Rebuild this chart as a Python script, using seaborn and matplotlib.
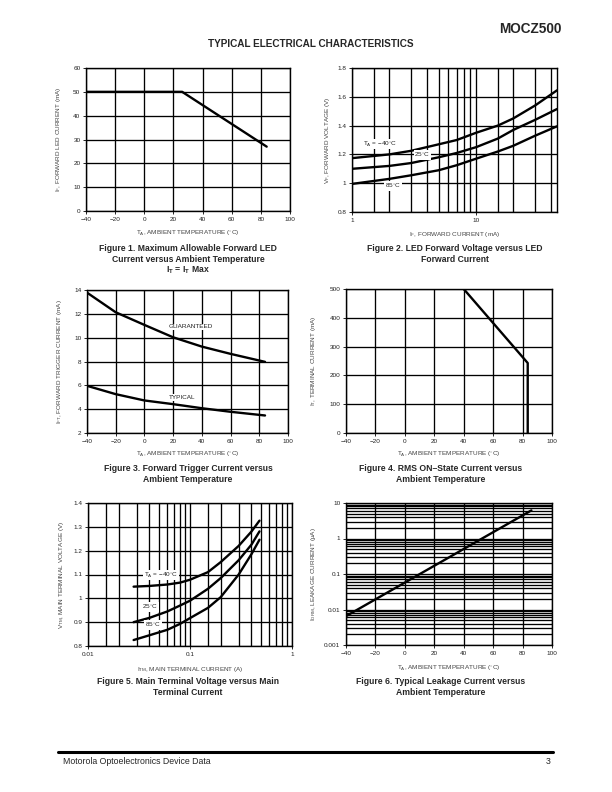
import numpy as np
import pandas as pd
import matplotlib
matplotlib.use("Agg")
import matplotlib.pyplot as plt
import seaborn as sns

# ---------------- data ----------------
fig1_temp = [-40, 26, 84]
fig1_current = [50, 50, 27]

fig2_if = [1, 2, 3, 5, 7, 10, 15, 20, 30, 45]
fig2_vf_m40 = [1.174, 1.20, 1.225, 1.27, 1.30, 1.35, 1.40, 1.45, 1.54, 1.645]
fig2_vf_25 = [1.10, 1.12, 1.14, 1.18, 1.21, 1.25, 1.31, 1.37, 1.44, 1.515]
fig2_vf_85 = [0.995, 1.03, 1.055, 1.09, 1.125, 1.17, 1.22, 1.26, 1.33, 1.395]

fig3_temp = [-40, -20, 0, 20, 40, 60, 84]
fig3_guaranteed = [13.78, 12.13, 11.07, 10.03, 9.25, 8.64, 7.97]
fig3_typical = [5.96, 5.26, 4.73, 4.42, 4.08, 3.78, 3.47]

fig4_temp = [40, 83.5, 83.5]
fig4_current = [500, 243, 0]

fig5_itm = [0.028, 0.04, 0.06, 0.08, 0.1, 0.15, 0.2, 0.3, 0.4, 0.48]
fig5_v_m40 = [1.049, 1.052, 1.058, 1.066, 1.078, 1.11, 1.152, 1.22, 1.28, 1.326]
fig5_v_25 = [0.900, 0.918, 0.945, 0.97, 0.99, 1.04, 1.085, 1.16, 1.225, 1.281]
fig5_v_85 = [0.825, 0.845, 0.868, 0.893, 0.917, 0.96, 1.005, 1.10, 1.185, 1.246]

fig6_temp = [-40, 86]
fig6_leak = [0.0065, 6.2]

temp_ticks = [-40, -20, 0, 20, 40, 60, 80, 100]

# ---------------- style ----------------
sns.set_theme(style="white")
plt.rcParams['font.family'] = ['Liberation Sans', 'DejaVu Sans']
plt.rcParams['axes.unicode_minus'] = True
plt.rcParams['mathtext.fontset'] = 'custom'
plt.rcParams['mathtext.rm'] = 'Liberation Sans'
plt.rcParams['mathtext.it'] = 'Liberation Sans'
plt.rcParams['mathtext.bf'] = 'Liberation Sans:bold'

W, H = 612, 792
fig = plt.figure(figsize=(6.12, 7.92), dpi=100)

LBL = '#444444'
TCK = '#222222'
LW_GRID = 0.95
LW_CURVE = 1.7


def make_ax(l, r, t, b):
    return fig.add_axes([l / W, 1 - b / H, (r - l) / W, (b - t) / H])


def style(ax, xlab, ylab, ylx, xly):
    ax.grid(which='major', color='black', lw=LW_GRID)
    ax.grid(which='minor', color='black', lw=LW_GRID)
    for s in ax.spines.values():
        s.set_color('black')
        s.set_linewidth(1.0)
    ax.tick_params(which='major', length=2, width=0.6, labelsize=4.6,
                   colors='black', labelcolor=TCK, pad=2,
                   bottom=True, left=True)
    ax.tick_params(which='minor', length=0)
    ax.set_xlabel(xlab, fontsize=4.6, color=LBL)
    ax.set_ylabel(ylab, fontsize=4.6, color=LBL)
    ax.yaxis.set_label_coords(ylx, 0.5)
    ax.xaxis.set_label_coords(0.5, xly)
    ax.set_axisbelow(True)


def curve(ax, x, y, **kw):
    sns.lineplot(x=x, y=y, ax=ax, color='black', lw=LW_CURVE,
                 sort=False, estimator=None, legend=False, **kw)


ta_label = r'T$_{\mathregular{A}}$, AMBIENT TEMPERATURE ($^{\circ}$C)'
tb = dict(facecolor='white', edgecolor='none', pad=0.6)

# ---- Figure 1 ----
ax1 = make_ax(86, 290, 68, 211)
curve(ax1, fig1_temp, fig1_current)
ax1.set_xlim(-40, 100)
ax1.set_ylim(0, 60)
ax1.set_xticks(temp_ticks)
ax1.set_yticks([0, 10, 20, 30, 40, 50, 60])
style(ax1, ta_label, r'I$_{\mathregular{F}}$, FORWARD LED CURRENT (mA)', -0.113, -0.126)

# ---- Figure 2 ----
ax2 = make_ax(352, 557, 68, 212)
curve(ax2, fig2_if, fig2_vf_m40)
curve(ax2, fig2_if, fig2_vf_25)
curve(ax2, fig2_if, fig2_vf_85)
ax2.set_xscale('log')
ax2.set_xlim(1, 45)
ax2.set_ylim(0.8, 1.8)
ax2.set_xticks([1, 10])
ax2.set_xticklabels(['1', '10'])
ax2.set_xticks([1.5, 2, 3, 4, 5, 6, 7, 8, 9, 15, 20, 30, 40], minor=True)
ax2.xaxis.set_minor_formatter(matplotlib.ticker.NullFormatter())
ax2.set_yticks([0.8, 1.0, 1.2, 1.4, 1.6, 1.8])
ax2.set_yticklabels(['0.8', '1', '1.2', '1.4', '1.6', '1.8'])
style(ax2, r'I$_{\mathregular{F}}$, FORWARD CURRENT (mA)',
      r'V$_{\mathregular{F}}$, FORWARD VOLTAGE (V)', -0.098, -0.125)
ax2.text(1.68, 1.272, r'T$_{\mathregular{A}}$ = $-$40$^{\circ}$C', fontsize=4.6,
         ha='center', va='center', bbox=tb, color=TCK)
ax2.text(3.7, 1.195, r'25$^{\circ}$C', fontsize=4.6, ha='center', va='center', bbox=tb, color=TCK)
ax2.text(2.15, 0.98, r'85$^{\circ}$C', fontsize=4.6, ha='center', va='center', bbox=tb, color=TCK)

# ---- Figure 3 ----
ax3 = make_ax(87, 288, 290, 433)
curve(ax3, fig3_temp, fig3_guaranteed)
curve(ax3, fig3_temp, fig3_typical)
ax3.set_xlim(-40, 100)
ax3.set_ylim(2, 14)
ax3.set_xticks(temp_ticks)
ax3.set_yticks([2, 4, 6, 8, 10, 12, 14])
style(ax3, ta_label, r'I$_{\mathregular{FT}}$, FORWARD TRIGGER CURRENT (mA)', -0.114, -0.119)
ax3.text(32, 10.9, 'GUARANTEED', fontsize=4.6, ha='center', va='center', bbox=tb, color=TCK)
ax3.text(26, 5.0, 'TYPICAL', fontsize=4.6, ha='center', va='center', bbox=tb, color=TCK)

# ---- Figure 4 ----
ax4 = make_ax(346, 552, 289, 433)
curve(ax4, fig4_temp, fig4_current)
ax4.set_xlim(-40, 100)
ax4.set_ylim(0, 500)
ax4.set_xticks(temp_ticks)
ax4.set_yticks([0, 100, 200, 300, 400, 500])
style(ax4, ta_label, r'I$_{\mathregular{T}}$, TERMINAL CURRENT (mA)', -0.136, -0.119)

# ---- Figure 5 ----
ax5 = make_ax(88, 292, 503, 646)
curve(ax5, fig5_itm, fig5_v_m40)
curve(ax5, fig5_itm, fig5_v_25)
curve(ax5, fig5_itm, fig5_v_85)
ax5.set_xscale('log')
ax5.set_xlim(0.01, 1)
ax5.set_ylim(0.8, 1.4)
ax5.set_xticks([0.01, 0.1, 1])
ax5.set_xticklabels(['0.01', '0.1', '1'])
ax5.set_xticks([0.015, 0.02, 0.03, 0.04, 0.05, 0.06, 0.07, 0.08, 0.09,
                0.15, 0.2, 0.3, 0.4, 0.5, 0.6, 0.7, 0.8, 0.9], minor=True)
ax5.xaxis.set_minor_formatter(matplotlib.ticker.NullFormatter())
ax5.set_yticks([0.8, 0.9, 1.0, 1.1, 1.2, 1.3, 1.4])
ax5.set_yticklabels(['0.8', '0.9', '1', '1.1', '1.2', '1.3', '1.4'])
style(ax5, r'I$_{\mathregular{TM}}$, MAIN TERMINAL CURRENT (A)',
      r'V$_{\mathregular{TM}}$, MAIN TERMINAL VOLTAGE (V)', -0.108, -0.133)
ax5.text(0.052, 1.098, r'T$_{\mathregular{A}}$ = $-$40$^{\circ}$C', fontsize=4.6,
         ha='center', va='center', bbox=tb, color=TCK)
ax5.text(0.0405, 0.964, r'25$^{\circ}$C', fontsize=4.6, ha='center', va='center', bbox=tb, color=TCK)
ax5.text(0.0434, 0.888, r'85$^{\circ}$C', fontsize=4.6, ha='center', va='center', bbox=tb, color=TCK)

# ---- Figure 6 ----
ax6 = make_ax(346, 552, 503, 645)
curve(ax6, fig6_temp, fig6_leak)
ax6.set_yscale('log')
ax6.set_xlim(-40, 100)
ax6.set_ylim(0.001, 10)
ax6.set_xticks(temp_ticks)
ax6.set_yticks([0.001, 0.01, 0.1, 1, 10])
ax6.set_yticklabels(['0.001', '0.01', '0.1', '1', '10'])
ax6.yaxis.set_minor_locator(matplotlib.ticker.LogLocator(base=10, subs=np.arange(2, 10)))
ax6.yaxis.set_minor_formatter(matplotlib.ticker.NullFormatter())
style(ax6, ta_label, r'I$_{\mathregular{DRM}}$, LEAKAGE CURRENT ($\mu$A)', -0.136, -0.133)

# ---------------- page texts ----------------
def ftext(x, y, s, **kw):
    fig.text(x / W, 1 - y / H, s, **kw)

ftext(562, 29, 'MOCZ500', ha='right', va='center', fontsize=9.8, fontweight='heavy')
ftext(311, 44, 'TYPICAL ELECTRICAL CHARACTERISTICS', ha='center', va='center',
      fontsize=7.2, fontweight='bold')

cap = dict(ha='center', va='baseline', fontsize=6.2, fontweight='bold')
ftext(188, 251, 'Figure 1. Maximum Allowable Forward LED', **cap)
ftext(188, 262, 'Current versus Ambient Temperature', **cap)
ftext(188, 272, r'I$_{\mathbf{T}}$ = I$_{\mathbf{T}}$ Max', **cap)
ftext(455, 251, 'Figure 2. LED Forward Voltage versus LED', **cap)
ftext(455, 262, 'Forward Current', **cap)
ftext(188, 471, 'Figure 3. Forward Trigger Current versus', **cap)
ftext(188, 482, 'Ambient Temperature', **cap)
ftext(441, 471, 'Figure 4. RMS ON\u2013State Current versus', **cap)
ftext(441, 482, 'Ambient Temperature', **cap)
ftext(188, 684, 'Figure 5. Main Terminal Voltage versus Main', **cap)
ftext(188, 695, 'Terminal Current', **cap)
ftext(441, 684, 'Figure 6. Typical Leakage Current versus', **cap)
ftext(441, 695, 'Ambient Temperature', **cap)

fig.add_artist(plt.Line2D([58 / W, 553 / W], [1 - 752 / H, 1 - 752 / H],
                          color='black', lw=2.2))
ftext(63, 761, 'Motorola Optoelectronics Device Data', ha='left', va='center', fontsize=6.3)
ftext(551, 761, '3', ha='right', va='center', fontsize=6.3)

fig.savefig('out.png', dpi=100)
